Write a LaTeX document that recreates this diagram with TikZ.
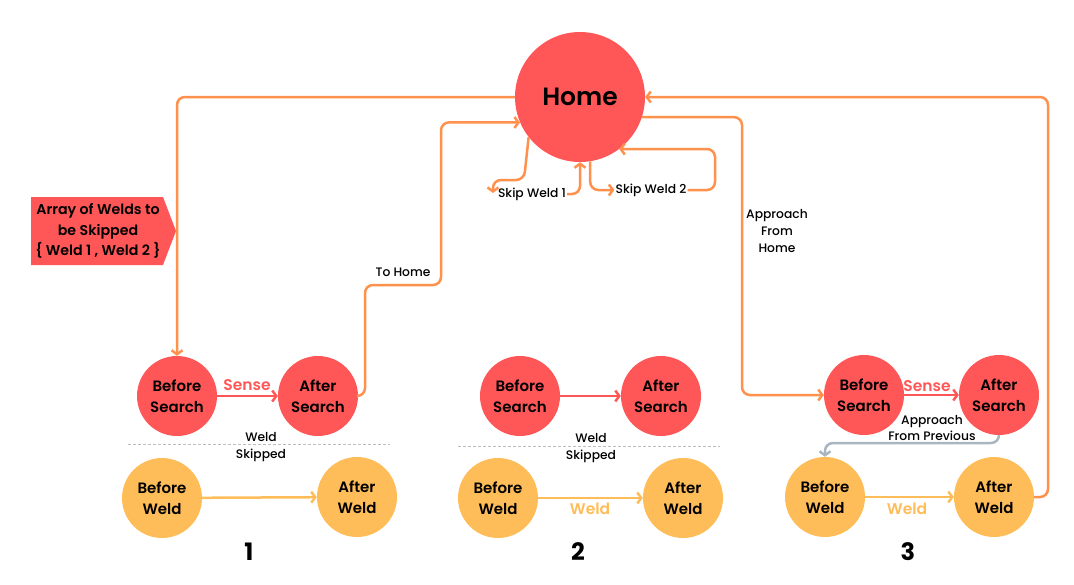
\documentclass[tikz,border=0pt]{standalone}
\usepackage{fontspec}
\setmainfont{Poppins}[BoldFont={Poppins SemiBold}]
\newfontfamily\medf{Poppins Medium}
\newfontfamily\heavy{Poppins Bold}
\usetikzlibrary{arrows.meta}
\definecolor{redc}{HTML}{FF5757}
\definecolor{orangec}{HTML}{FF914D}
\definecolor{yellowc}{HTML}{FFBD59}
\definecolor{grayc}{HTML}{A9B6C2}
\definecolor{dashc}{HTML}{BDBDBD}
\tikzset{
  redn/.style={circle, fill=redc, minimum size=80pt, inner sep=0pt, align=center, font=\bfseries\fontsize{15}{21}\selectfont},
  yeln/.style={circle, fill=yellowc, minimum size=80pt, inner sep=0pt, align=center, font=\bfseries\fontsize{15}{21}\selectfont},
  tip/.style={-{Straight Barb[length=4pt,width=11pt]}},
  conn/.style={draw=orangec, line width=2.5pt, rounded corners=8pt, tip},
  sense/.style={draw=redc, line width=2.5pt, tip},
  weld/.style={draw=yellowc, line width=2.5pt, tip},
  lbl/.style={font=\medf\fontsize{12.3}{17}\selectfont, align=center, inner sep=1pt},
  num/.style={font=\heavy\fontsize{24}{28}\selectfont},
  dsh/.style={draw=dashc, line width=1pt, dash pattern=on 3pt off 2pt}
}
\begin{document}
\begin{tikzpicture}[x=1pt,y=-1pt]
\useasboundingbox (0,0) rectangle (1074,584);
% Home
\node[circle, fill=redc, minimum size=130pt, inner sep=0pt, font=\bfseries\fontsize{25}{30}\selectfont] (home) at (580,97) {Home};
% array box
\fill[redc] (31,197) -- (163,197) -- (176,231) -- (163,265) -- (31,265) -- cycle;
\node[font=\bfseries\fontsize{14.2}{20.5}\selectfont, align=center] (arr) at (98,231) {Array of Welds to\\be Skipped\\\{ Weld 1 , Weld 2 \}};
% group 1
\node[redn] (bs1) at (177,396) {Before\\Search};
\node[redn] (as1) at (318,396) {After\\Search};
\node[yeln] (bw1) at (162,498) {Before\\Weld};
\node[yeln] (aw1) at (357,497) {After\\Weld};
% group 2
\node[redn] (bs2) at (520,396) {Before\\Search};
\node[redn] (as2) at (661,396) {After\\Search};
\node[yeln] (bw2) at (498,498) {Before\\Weld};
\node[yeln] (aw2) at (683,498) {After\\Weld};
% group 3
\node[redn] (bs3) at (864,395) {Before\\Search};
\node[redn] (as3) at (999,395) {After\\Search};
\node[yeln] (bw3) at (825,497) {Before\\Weld};
\node[yeln] (aw3) at (994,497) {After\\Weld};
% dashed separators
\coordinate (d1a) at (128,444); \coordinate (d1b) at (390,444);
\coordinate (d2a) at (458,446); \coordinate (d2b) at (720,446);
\draw[dsh] (d1a) -- (d1b);
\draw[dsh] (d2a) -- (d2b);
\node[lbl] (ws1a) at (261,437) {Weld};
\node[lbl] (ws1b) at (261,455) {Skipped};
\node[lbl] (ws2a) at (591,438) {Weld};
\node[lbl] (ws2b) at (591,456) {Skipped};
% numbers
\node[num] (n1) at (249,552) {1};
\node[num] (n2) at (578,552) {2};
\node[num] (n3) at (908,552) {3};
% sense / weld arrows
\draw[sense] (bs1) -- (as1);
\node[text=redc, font=\bfseries\fontsize{15.5}{16}\selectfont] (s1) at (247,385) {Sense};
\draw[sense] (bs2) -- (as2);
\draw[sense] (bs3) -- (as3);
\node[text=redc, font=\bfseries\fontsize{15.5}{16}\selectfont] (s3) at (927,386) {Sense};
\draw[weld] (bw1) -- (aw1);
\draw[weld] (bw2) -- (aw2);
\node[text=yellowc, font=\bfseries\fontsize{15.5}{16}\selectfont] (w2) at (590,509) {Weld};
\draw[weld] (bw3) -- (aw3);
\node[text=yellowc, font=\bfseries\fontsize{15.5}{16}\selectfont] (w3) at (907,509) {Weld};
% labels
\node[lbl] (th) at (403,272) {To Home};
\node[lbl] (sw1) at (532,194) {Skip Weld 1};
\node[lbl] (sw2) at (651,190) {Skip Weld 2};
\node[lbl] (afh) at (777,231) {Approach\\From\\Home};
\node[lbl, font=\medf\fontsize{12.3}{16}\selectfont] (afp) at (932,428) {Approach\\From Previous};
% connectors
\draw[conn] (home.west) -| (bs1.north);
\draw[conn] (as1.east) -- (365,396) -- (365,285) -- (441,285) -- (441,122.4) -- (home.-157);
\draw[conn] (home.-142) -- (524,180) -- (493,180) -- (493,193);
\draw[conn] (sw1.east) -| (home.south);
\draw[conn] (home.-81) |- (sw2.west);
\draw[conn] (sw2.east) -- (715,190) -- (715,149) -- (home.-53);
\draw[conn] (home.-18) -| (742,300) |- (bs3.west);
\draw[conn] (aw3.east) -- (1048,497) |- (home.east);
\draw[draw=grayc, line width=2.5pt, rounded corners=8pt, tip] (as3.south) -- (999,443) -| (bw3.north);
\end{tikzpicture}
\end{document}
